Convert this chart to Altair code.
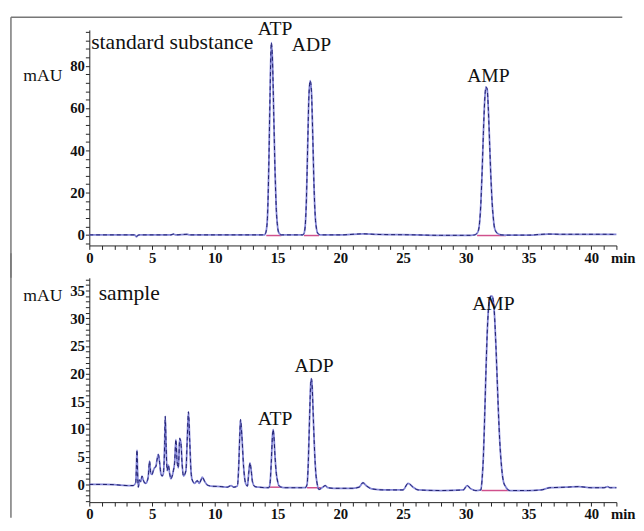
import altair as alt
import pandas as pd

# ---------------- data ----------------
# standard substance trace (time in min, signal in mAU)
top_t = [0, 1, 2.5, 3.6, 3.75, 3.85, 4.0, 5, 6.5, 6.7, 6.9, 7.8, 8.0, 10, 12, 13.9,
         14.0, 14.1, 14.2, 14.3, 14.4, 14.5, 14.6, 14.7, 14.8, 14.9, 15.0, 15.1, 15.3,
         17.0, 17.1, 17.2, 17.3, 17.4, 17.5, 17.6, 17.7, 17.8, 17.9, 18.0, 18.1, 18.2, 18.4,
         20, 21.8, 23, 26, 28, 30.4,
         30.7, 30.85, 31.0, 31.1, 31.2, 31.3, 31.4, 31.5, 31.6, 31.7, 31.8, 31.9, 32.0, 32.1, 32.2, 32.3, 32.5, 32.8,
         33.2, 35, 36.5, 37.5, 39, 41, 42]
top_v = [0, 0, 0, 0, -0.9, -0.3, 0, 0, 0, 0.4, 0, 0.3, 0, 0, 0, 0,
         0.3, 2, 9, 32, 66, 91, 82, 56, 30, 12, 4, 1, 0,
         0, 0.6, 4, 17, 42, 66, 73, 68, 48, 24, 9, 3, 0.8, 0,
         0, 0.5, 0.2, 0, -0.2, -0.2,
         0, 0.5, 2, 6, 15, 30, 48, 63, 70, 69, 59, 43, 27, 15, 7.5, 3, 0.8, 0,
         -0.1, -0.1, 0.4, 0.3, 0.3, 0.3, 0.2]

# sample trace
bot_t = [0, 1, 2, 3, 3.5, 3.7, 3.75, 3.8, 3.85, 3.9, 4.0, 4.1, 4.2, 4.3, 4.4, 4.5,
         4.6, 4.7, 4.8, 4.9, 5.0, 5.1, 5.2, 5.3, 5.4, 5.5, 5.6, 5.7, 5.8, 5.9, 6.0, 6.05, 6.12, 6.2, 6.3, 6.4,
         6.5, 6.6, 6.7, 6.8, 6.9, 7.0, 7.1, 7.2, 7.3, 7.4, 7.5, 7.7, 7.8, 7.9, 8.0, 8.1, 8.2, 8.4, 8.6, 8.75, 8.9, 9.0, 9.2, 9.4, 9.7,
         10.5, 11.0, 11.3, 11.5, 11.8, 11.9, 12.0, 12.05, 12.15, 12.3, 12.45, 12.6, 12.7, 12.8, 12.9, 13.0, 13.2, 13.5,
         14.3, 14.4, 14.5, 14.6, 14.65, 14.7, 14.8, 14.9, 15.0, 15.1, 15.3, 15.6, 17.2,
         17.35, 17.45, 17.55, 17.65, 17.7, 17.75, 17.85, 17.95, 18.05, 18.15, 18.3, 18.6, 18.8, 19.0, 19.5,
         21.0, 21.5, 21.8, 22.1, 22.5, 23.5, 25.0, 25.4, 25.8, 26.2, 28.0, 29.8, 30.1, 30.4, 30.8, 31.2,
         31.3, 31.4, 31.5, 31.6, 31.7, 31.8, 31.9, 32.0, 32.1, 32.2, 32.3, 32.4, 32.5, 32.6, 32.7, 32.8, 32.9, 33.0, 33.2, 33.5,
         35, 36, 36.7, 38, 39, 40, 41, 41.3, 41.5, 42]
bot_v = [0, 0, -0.05, -0.2, -0.2, 0.3, 3, 6.2, 2, -0.5, 0.8, 0.5, 1.5, 0.8, 0.3, 0.2,
         0.5, 1.5, 4.2, 2, 1.8, 2.5, 3, 3.2, 4.5, 5.4, 4, 2, 1.5, 2, 7, 12.3, 7, 2.5, 3.5, 2,
         1, 1.5, 2.5, 4, 8.1, 4, 3, 8.3, 7.5, 3.5, 1.5, 2.5, 8, 13.1, 8, 2.5, 0.8, 0.2, 0.7, 0.2, 0.8, 1.3, 0.5, -0.1, -0.3,
         -0.4, -0.5, -0.2, -0.5, -0.3, 3, 9.5, 11.7, 9, 3, 0.2, -0.3, 2, 3.9, 2.5, 0.5, -0.4, -0.5,
         -0.6, 0.2, 4, 9, 9.9, 9, 5, 2, 0.6, -0.2, -0.5, -0.6, -0.6,
         0, 4, 12, 18.5, 19.1, 18, 12, 6, 2, 0.2, -0.9, -0.5, -0.2, -0.6, -0.7,
         -0.7, -0.5, 0.3, -0.3, -0.8, -1.0, -1.0, 0.2, -0.5, -1.0, -1.1, -1.0, -0.2, -0.8, -1.1, -1.0,
         1, 5, 12, 20, 27, 31.5, 33.5, 34, 34, 33, 30, 25, 19, 13, 8, 4.5, 2, 0.5, -0.5, -1.1,
         -1.1, -1.0, -0.6, -0.5, -0.4, -0.6, -0.6, -0.4, -0.6, -0.6]

# integration baselines (pink segments under the named peaks)
top_base_t1 = [14.1, 17.1, 30.9]
top_base_t2 = [15.3, 18.3, 33.2]
top_base_v = [-0.3, -0.3, -0.3]
bot_base_t1 = [14.4, 17.35, 31.25]
bot_base_t2 = [15.3, 18.5, 33.4]
bot_base_v = [-0.5, -0.6, -1.1]

# peak names and their label anchor positions
peak_names = ["ATP", "ADP", "AMP"]
top_label_t = [14.8, 17.7, 31.8]
top_label_v = [97.5, 90, 75]
bot_label_t = [14.8, 17.9, 32.2]
bot_label_v = [11.7, 21.4, 32.6]

panel_titles = ["standard substance", "sample"]
panel_title_t = [0.15, 0.75]
panel_title_v = [91, 34.6]

# axis settings
x_domain = [0, 42]
x_ticks = list(range(0, 43))
top_domain = [-5, 97]
top_ticks = list(range(-4, 97, 4))
bot_domain = [-3.2, 37.3]
bot_ticks = list(range(-3, 38))

SERIF = "Liberation Serif"
W = 538


def panel(t, v, b1, b2, bv, lt, lv, ttl, tt, tv, ydom, yticks, ymajor, height,
          ytitle_y, frame_y1, frame_y2, top_frame):
    df = pd.DataFrame({"t": t, "v": v})
    bdf = pd.DataFrame({"t1": b1, "t2": b2, "v": bv})
    ldf = pd.DataFrame({"t": lt, "v": lv, "name": peak_names})
    tdf = pd.DataFrame({"t": [tt], "v": [tv], "name": [ttl]})

    xs = alt.Scale(domain=x_domain, nice=False, zero=False)
    ys = alt.Scale(domain=ydom, nice=False, zero=False)
    xaxis = alt.Axis(
        values=x_ticks, labelExpr="datum.value % 5 === 0 ? datum.label : ''",
        tickSize=4, tickWidth=1,
        grid=False, labelFlush=False, labelOverlap=False, domainColor="#222", tickColor="#222",
        labelFont=SERIF, labelFontSize=15, labelFontWeight="bold", labelColor="#111", labelPadding=1,
        title="min", titleAngle=0, titleX=W - 6, titleY=12, titleAlign="left", titleBaseline="middle",
        titleFont=SERIF, titleFontSize=15, titleFontWeight="bold", titleColor="#111")
    yaxis = alt.Axis(
        values=yticks, labelExpr=f"datum.value % {ymajor} === 0 ? datum.label : ''",
        tickSize=4, tickWidth=1,
        grid=False, labelOverlap=False, domainColor="#222", tickColor="#222",
        labelFont=SERIF, labelFontSize=15, labelFontWeight="bold", labelColor="#111", labelPadding=1,
        title="mAU", titleAngle=0, titleX=-48, titleY=ytitle_y, titleAlign="center",
        titleBaseline="middle", titleFont=SERIF, titleFontSize=18, titleFontWeight="normal",
        titleColor="#111")

    def X(f):
        return alt.X(f, type="quantitative", scale=xs, axis=xaxis)

    def Y(f):
        return alt.Y(f, type="quantitative", scale=ys, axis=yaxis)

    light = alt.Chart(df).mark_line(color="#8486d6", strokeWidth=1.8, interpolate="monotone").encode(
        x=X("t"), y=Y("v"))
    dark = alt.Chart(df).mark_line(color="#1c1c6a", strokeWidth=1, strokeDash=[4, 3],
                                   interpolate="monotone").encode(x=X("t"), y=Y("v"))
    base = alt.Chart(bdf).mark_rule(color="#d0508c", strokeWidth=1.5).encode(
        x=X("t1"), x2="t2", y=Y("v"))
    labels = alt.Chart(ldf).mark_text(font=SERIF, fontSize=20, color="#111", align="center",
                                      baseline="middle").encode(x=X("t"), y=Y("v"), text="name:N")
    title = alt.Chart(tdf).mark_text(font=SERIF, fontSize=22, color="#111", align="left",
                                     baseline="middle").encode(x=X("t"), y=Y("v"), text="name:N")
    left_frame = alt.Chart(tdf).mark_rule(color="#777", strokeWidth=1.5).encode(
        x=alt.value(-80), y=alt.value(frame_y1), y2=alt.value(frame_y2))
    layers = [base, light, dark, labels, title, left_frame]
    if top_frame:
        layers.append(alt.Chart(tdf).mark_rule(color="#777", strokeWidth=1.5).encode(
            x=alt.value(-80), x2=alt.value(544), y=alt.value(-13)))
    return alt.layer(*layers).properties(width=W, height=height)


top = panel(top_t, top_v, top_base_t1, top_base_t2, top_base_v, top_label_t, top_label_v,
            panel_titles[0], panel_title_t[0], panel_title_v[0], top_domain, top_ticks, 20, 220,
            47, -13, 253, True)
bottom = panel(bot_t, bot_v, bot_base_t1, bot_base_t2, bot_base_v, bot_label_t, bot_label_v,
               panel_titles[1], panel_title_t[1], panel_title_v[1], bot_domain, bot_ticks, 5, 229,
               18, -25, 245, False)

chart = alt.vconcat(top, bottom, spacing=33, bounds="flush").properties(
    padding={"left": 2, "top": 3, "right": 0, "bottom": 0},
    background="white",
).configure_view(stroke=None).configure_axis(labelFont=SERIF, titleFont=SERIF)

chart.save("out.html", embed_options={"renderer": "svg", "actions": False})
